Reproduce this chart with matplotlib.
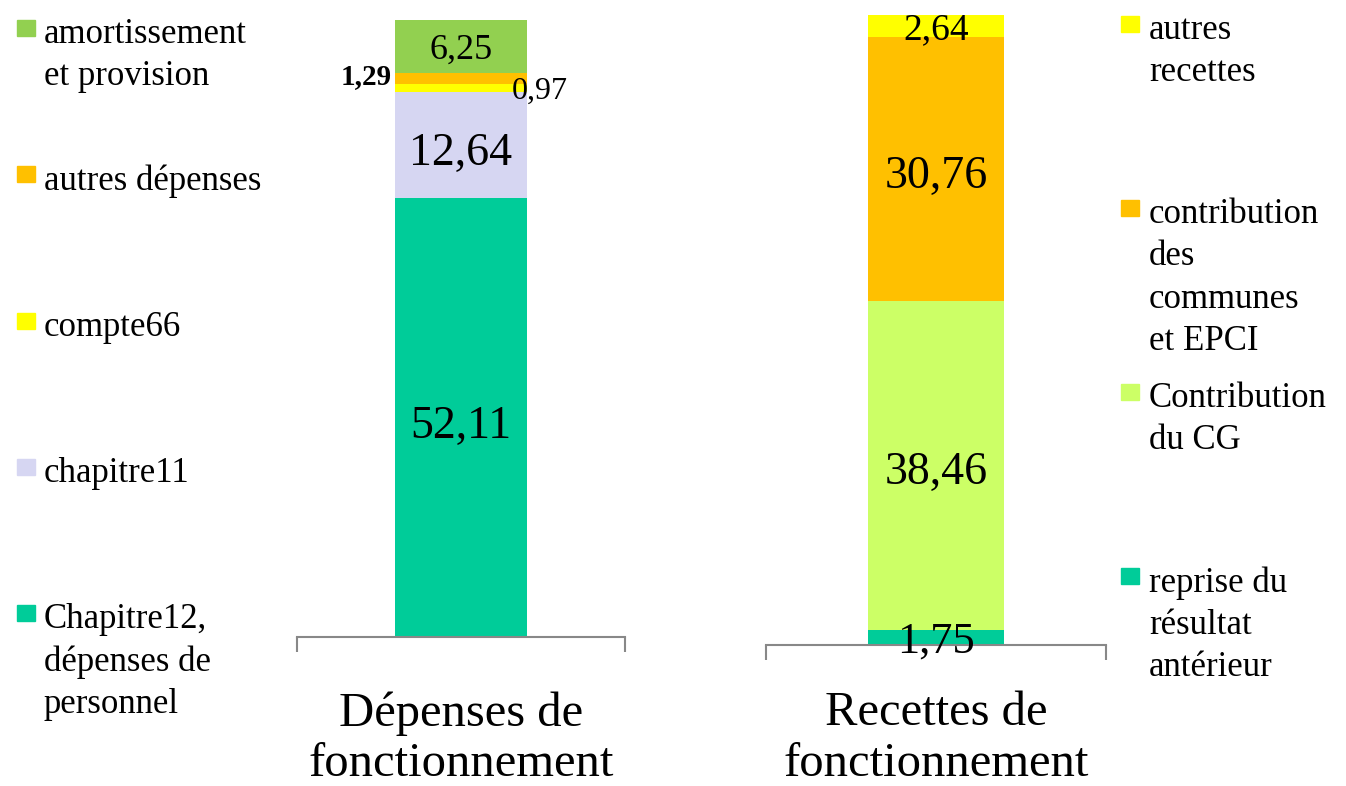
import matplotlib
matplotlib.use('Agg')
from matplotlib import pyplot as plt
from matplotlib.patches import Rectangle

plt.rcParams['font.family'] = ['Liberation Serif', 'DejaVu Serif']

# data (bottom of the stack first)
dep_category = 'Dépenses de\nfonctionnement'
dep_labels = ['Chapitre12,\ndépenses de\npersonnel', 'chapitre11', 'compte66',
              'autres dépenses', 'amortissement\net provision']
dep_values = [52.11, 12.64, 0.97, 1.29, 6.25]

rec_category = 'Recettes de\nfonctionnement'
rec_labels = ['reprise du\nrésultat\nantérieur', 'Contribution\ndu CG',
              'contribution\ndes\ncommunes\net EPCI', 'autres\nrecettes']
rec_values = [1.75, 38.46, 30.76, 2.64]

# styles
dep_colors = ['#00CC99', '#D6D6F2', '#FFFF00', '#FFC000', '#92D050']
rec_colors = ['#00CC99', '#CCFF66', '#FFC000', '#FFFF00']
dep_label_sizes = [33, 33, 23, 21, 26]
rec_label_sizes = [32, 33, 33, 27]
dep_label_weights = ['normal', 'normal', 'normal', 'bold', 'normal']
rec_label_weights = ['normal'] * 4
# (x, dy, ha) for each value label
dep_label_pos = [(0, -0.5, 'center'), (0, -0.4, 'center'), (0.155, 0, 'left'),
                 (-0.21, 0.6, 'right'), (0, 0, 'center')]
rec_label_pos = [(0, 0, 'center'), (0, -0.3, 'center'), (0, -0.3, 'center'),
                 (0, 0, 'center')]

W, H = 1346, 786
fig = plt.figure(figsize=(W / 100, H / 100), dpi=100)


def fx(px):
    return px / W


def fy(py):
    return 1 - py / H


def fmt(v):
    return f'{v:.2f}'.replace('.', ',')


def draw_stack(rect, category, values, colors, sizes, weights, positions, pad):
    ax = fig.add_axes(rect)
    bottom = 0
    for v, c, s, w, (x, dy, ha) in zip(values, colors, sizes, weights, positions):
        ax.bar(0, v, width=0.4, bottom=bottom, color=c)
        ax.text(x, bottom + v / 2 + dy, fmt(v), ha=ha, va='center_baseline',
                fontsize=s, fontweight=w, color='black')
        bottom += v
    ax.set_xlim(-0.5, 0.5)
    ax.set_ylim(0, 75)
    ax.set_yticks([])
    for side in ['top', 'left', 'right']:
        ax.spines[side].set_visible(False)
    ax.spines['bottom'].set_color('#888888')
    ax.spines['bottom'].set_linewidth(1.5)
    ax.set_xticks([0], labels=[category])
    ax.tick_params(axis='x', which='major', length=0, pad=pad, labelsize=35)
    for t in ax.get_xticklabels():
        t.set_linespacing(1.2)
    ax.set_xticks([-0.5, 0.5], minor=True)
    ax.tick_params(axis='x', which='minor', length=11, width=1.5, color='#888888')
    return ax


# left chart: axis line 297..625 px at y=637
draw_stack([fx(297), fy(637), (625 - 297) / W, 8.42 * 75 / H],
           dep_category, dep_values, dep_colors, dep_label_sizes,
           dep_label_weights, dep_label_pos, 39)
# right chart: axis line 766..1106 px at y=645
draw_stack([fx(766), fy(645), (1106 - 766) / W, 8.56 * 75 / H],
           rec_category, rec_values, rec_colors, rec_label_sizes,
           rec_label_weights, rec_label_pos, 33)


def draw_legend(labels, colors, x_sq, x_txt, y_start, pitch):
    # entries listed top to bottom (reverse of stack)
    for i, (lab, c) in enumerate(zip(labels[::-1], colors[::-1])):
        base = y_start + i * pitch
        fig.patches.append(Rectangle((fx(x_sq), fy(base - 3)), 18 / W, 16 / H,
                                     transform=fig.transFigure, color=c))
        fig.text(fx(x_txt), fy(base - 21), lab, ha='left', va='top',
                 fontsize=25, linespacing=1.37)


draw_legend(dep_labels, dep_colors, 17, 44, 39, 146.25)
draw_legend(rec_labels, rec_colors, 1121, 1149, 35, 184)

fig.savefig('out.png', dpi=100)
